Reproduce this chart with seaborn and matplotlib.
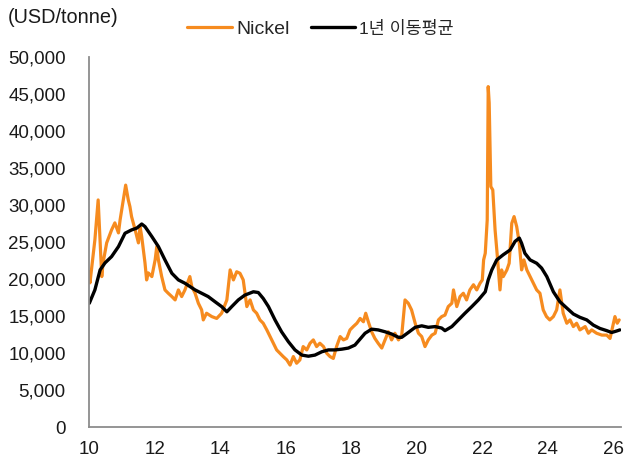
import numpy as np
import pandas as pd
import matplotlib
matplotlib.use("Agg")
import matplotlib.pyplot as plt
import seaborn as sns
from matplotlib.ticker import FuncFormatter

# Nickel price (USD/tonne); time as decimal year
nickel_t = [
    2010.00, 2010.02, 2010.11, 2010.17, 2010.27, 2010.38, 2010.42, 2010.53, 2010.68, 2010.78,
    2010.89, 2010.94, 2010.99, 2011.11, 2011.19, 2011.24, 2011.29, 2011.40, 2011.50, 2011.55,
    2011.60, 2011.65, 2011.70, 2011.75, 2011.80, 2011.91, 2012.01, 2012.06, 2012.11, 2012.21,
    2012.31, 2012.41, 2012.52, 2012.62, 2012.72, 2012.82, 2012.92, 2013.07, 2013.13, 2013.23,
    2013.33, 2013.43, 2013.48, 2013.58, 2013.74, 2013.89, 2014.04, 2014.20, 2014.30, 2014.40,
    2014.50, 2014.60, 2014.70, 2014.81, 2014.91, 2015.01, 2015.11, 2015.21, 2015.31, 2015.42,
    2015.52, 2015.62, 2015.72, 2015.82, 2015.92, 2016.03, 2016.13, 2016.23, 2016.33, 2016.43,
    2016.53, 2016.64, 2016.74, 2016.84, 2016.94, 2017.04, 2017.15, 2017.25, 2017.35, 2017.45,
    2017.55, 2017.66, 2017.76, 2017.86, 2017.96, 2018.06, 2018.17, 2018.27, 2018.37, 2018.44,
    2018.52, 2018.62, 2018.72, 2018.82, 2018.93, 2019.03, 2019.13, 2019.23, 2019.33, 2019.44,
    2019.54, 2019.64, 2019.74, 2019.84, 2019.95, 2020.05, 2020.15, 2020.25, 2020.35, 2020.46,
    2020.56, 2020.66, 2020.76, 2020.86, 2020.96, 2021.07, 2021.12, 2021.22, 2021.32, 2021.42,
    2021.52, 2021.62, 2021.73, 2021.83, 2021.93, 2022.00, 2022.04, 2022.09, 2022.15, 2022.18,
    2022.21, 2022.26, 2022.32, 2022.39, 2022.46, 2022.54, 2022.59, 2022.64, 2022.75, 2022.82,
    2022.90, 2022.97, 2023.05, 2023.13, 2023.20, 2023.27, 2023.36, 2023.46, 2023.56, 2023.66,
    2023.76, 2023.86, 2023.96, 2024.06, 2024.17, 2024.27, 2024.32, 2024.37, 2024.47, 2024.58,
    2024.68, 2024.78, 2024.88, 2024.98, 2025.14, 2025.24, 2025.34, 2025.49, 2025.65, 2025.80,
    2025.90, 2025.98, 2026.05, 2026.12, 2026.18,
]
nickel = [
    21000, 19500, 23000, 25300, 30700, 20350, 22200, 24900, 26650, 27600,
    26250, 28000, 29400, 32700, 30700, 29800, 28450, 26650, 24900, 27100,
    25750, 23950, 22200, 19900, 20850, 20350, 22600, 24400, 22600, 20350,
    18550, 18100, 17650, 17200, 18550, 17650, 18550, 20350, 19000, 18100,
    16750, 15850, 14500, 15400, 14950, 14700, 15400, 17200, 21250, 19900,
    21000, 20800, 19900, 16300, 17200, 15850, 15400, 14500, 14050, 13150,
    12250, 11350, 10450, 10000, 9550, 9100, 8400, 9550, 8650, 9100,
    10900, 10450, 11350, 11800, 10900, 11350, 10900, 10000, 9550, 9300,
    10900, 12250, 11800, 12000, 13150, 13600, 14050, 14700, 14250, 15400,
    14250, 12900, 12000, 11350, 10700, 11800, 12900, 11800, 12700, 11800,
    12450, 17200, 16750, 15850, 14050, 12700, 12250, 10900, 11800, 12450,
    12700, 14500, 14950, 15150, 16300, 16750, 18550, 16300, 17650, 18100,
    17200, 18550, 19250, 18550, 19450, 19900, 22600, 23500, 28000, 46000,
    43800, 32500, 32050, 26650, 23050, 18550, 21250, 20350, 21250, 22150,
    27550, 28450, 27100, 24850, 21250, 22600, 21250, 20350, 19450, 18550,
    18100, 15850, 14950, 14500, 14950, 15850, 17200, 18550, 15400, 14050,
    14500, 13600, 14050, 13150, 13600, 12700, 13150, 12700, 12450, 12450,
    12000, 13600, 14950, 14050, 14500,
]

# 1-year moving average
ma_t = [
    2010.00, 2010.17, 2010.33, 2010.48, 2010.68, 2010.89, 2011.09, 2011.29, 2011.45, 2011.60,
    2011.70, 2011.91, 2012.11, 2012.31, 2012.52, 2012.72, 2012.92, 2013.23, 2013.63, 2013.84,
    2014.04, 2014.20, 2014.35, 2014.55, 2014.75, 2015.01, 2015.16, 2015.31, 2015.47, 2015.67,
    2015.87, 2016.08, 2016.28, 2016.49, 2016.69, 2016.89, 2017.10, 2017.30, 2017.50, 2017.71,
    2017.91, 2018.11, 2018.42, 2018.62, 2018.82, 2019.03, 2019.23, 2019.44, 2019.54, 2019.74,
    2019.95, 2020.15, 2020.35, 2020.56, 2020.76, 2020.86, 2021.07, 2021.27, 2021.47, 2021.68,
    2021.88, 2022.09, 2022.18, 2022.29, 2022.44, 2022.64, 2022.85, 2023.00, 2023.13, 2023.20,
    2023.30, 2023.46, 2023.66, 2023.81, 2023.97, 2024.17, 2024.37, 2024.58, 2024.78, 2024.98,
    2025.19, 2025.39, 2025.59, 2025.80, 2025.95, 2026.10, 2026.20,
]
ma = [
    16750, 18550, 21250, 22200, 23050, 24400, 26200, 26650, 26900, 27450,
    27100, 25750, 24400, 22600, 20800, 19900, 19450, 18550, 17650, 16950,
    16300, 15600, 16300, 17200, 17850, 18300, 18200, 17400, 16300, 14500,
    12900, 11550, 10450, 9750, 9600, 9750, 10200, 10450, 10450, 10550,
    10700, 11100, 12700, 13250, 13150, 12900, 12600, 12150, 12150, 12800,
    13500, 13700, 13500, 13600, 13400, 13050, 13600, 14500, 15400, 16300,
    17200, 18300, 19900, 21250, 22600, 23300, 23950, 25100, 25550, 24850,
    23500, 22600, 22150, 21500, 20350, 18300, 16950, 16100, 15300, 14850,
    14500, 13800, 13350, 13050, 12800, 13000, 13150,
]

year_ticks = list(range(2010, 2027, 2))
year_labels = [f"{y % 100:02d}" for y in year_ticks]

df_ni = pd.DataFrame({"t": nickel_t, "price": nickel})
df_ma = pd.DataFrame({"t": ma_t, "price": ma})

sns.set_style("white")
plt.rcParams["font.family"] = ["Liberation Sans", "Noto Sans CJK KR", "DejaVu Sans"]

fig = plt.figure(figsize=(6.25, 4.63), dpi=100)
ax = fig.add_axes([0.1429, 0.0771, 0.8507, 0.7998])

sns.lineplot(data=df_ni, x="t", y="price", ax=ax, color="#F68B1F", linewidth=2.3,
             estimator=None, sort=False, label="Nickel")
sns.lineplot(data=df_ma, x="t", y="price", ax=ax, color="black", linewidth=2.4,
             estimator=None, sort=False, label="1년 이동평균")

ax.set_xlim(2010, 2026.235)
ax.set_ylim(0, 50000)
ax.set_xticks(year_ticks)
ax.set_xticklabels(year_labels)
ax.set_yticks(range(0, 50001, 5000))
ax.yaxis.set_major_formatter(FuncFormatter(lambda v, p: f"{int(v):,}"))
ax.set_xlabel("")
ax.set_ylabel("")

for side in ["top", "right"]:
    ax.spines[side].set_visible(False)
for side in ["left", "bottom"]:
    ax.spines[side].set_color("#8c8c8c")
    ax.spines[side].set_linewidth(1.3)
ax.tick_params(axis="both", direction="in", length=4, width=1, color="#8c8c8c",
               labelsize=13.5, labelcolor="#1a1a1a")
ax.tick_params(axis="y", pad=17)
ax.tick_params(axis="x", pad=10)

ax.get_legend().remove()
handles, labels = ax.get_legend_handles_labels()
leg = fig.legend(handles, labels, loc="center", bbox_to_anchor=(0.513, 0.938), ncol=2,
                 frameon=False, handlelength=2.3, handletextpad=0.2, columnspacing=1.1,
                 fontsize=14)
leg.get_texts()[1].set_fontsize(12.5)

fig.text(0.0128, 0.963, "(USD/tonne)", fontsize=14.3, va="center", ha="left", color="#1a1a1a")

fig.savefig("out.png", dpi=100)
